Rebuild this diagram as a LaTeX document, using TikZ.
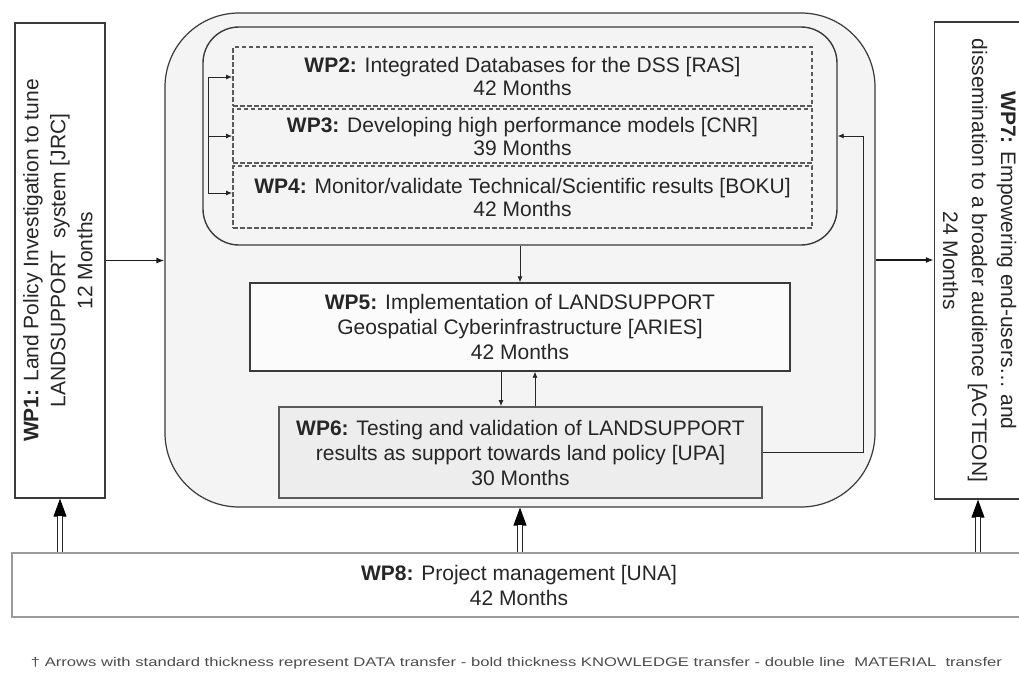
\documentclass[tikz,border=0pt]{standalone}
\usepackage{fontspec}
\setmainfont{Liberation Sans}
\usetikzlibrary{arrows.meta,calc}
\definecolor{boxfill}{HTML}{F4F4F4}
\definecolor{txtcol}{HTML}{262626}
\definecolor{linecol}{HTML}{3A3A3A}
\definecolor{dashcol}{HTML}{5A5A5A}
\definecolor{wp8col}{HTML}{9A9A9A}
\begin{document}
\begin{tikzpicture}[x=1pt,y=-1pt,
  txt/.style={font=\fontsize{21}{25}\selectfont, text=txtcol, align=center},
  plainbox/.style={txt, draw=linecol, rectangle, inner sep=0pt, line width=1.3pt},
  dashbox/.style={txt, font=\fontsize{21}{23}\selectfont, rectangle, inner sep=0pt,
     draw=dashcol, line width=1.9pt, dash pattern=on 4.5pt off 2.5pt, fill=boxfill},
  arr/.style={draw=black!85, line width=0.8pt, -{Latex[length=6pt,width=5pt]}},
  karr/.style={draw=black!90, line width=1.4pt, -{Latex[length=8pt,width=6pt]}},
  dbltip/.style={draw=black, line width=0.9pt, -{Triangle[length=18pt,width=13pt]}},
  dblshaft/.style={draw=black!85, double=white, double distance=3.5pt, line width=0.9pt, shorten >=17.5pt}
]
\useasboundingbox (0,0) rectangle (1019,675);
\fill[white] (0,0) rectangle (1019,675);

% big container
\node[rectangle, draw=linecol, line width=1.2pt, fill=boxfill, rounded corners=74pt,
      minimum width=710pt, minimum height=494pt] (big) at (520,260) {};
% inner rounded box
\node[rectangle, draw=linecol, line width=1.4pt, fill=boxfill, rounded corners=36pt,
      minimum width=634pt, minimum height=218pt] (inner) at (520,136) {};

% WP2-4
\node[dashbox, minimum width=579pt, minimum height=59pt] (wp2) at (522.5,76.5)
  {\textbf{WP2:} Integrated Databases for the DSS [RAS]\\42 Months};
\node[dashbox, minimum width=579pt, minimum height=54pt] (wp3) at (522.5,136)
  {\textbf{WP3:} Developing high performance models [CNR]\\39 Months};
\node[dashbox, minimum width=579pt, minimum height=62pt] (wp4) at (522.5,197)
  {\textbf{WP4:} Monitor/validate Technical/Scientific results [BOKU]\\42 Months};

% WP5, WP6
\node[plainbox, fill=white!60!boxfill, minimum width=540pt, minimum height=88pt] (wp5) at (520,327)
  {\textbf{WP5:} Implementation of LANDSUPPORT\\Geospatial Cyberinfrastructure [ARIES]\\42 Months};
\node[plainbox, draw=black!65, line width=1.8pt, fill=black!7, minimum width=483pt, minimum height=91pt] (wp6) at (520.5,452.5)
  {\textbf{WP6:} Testing and validation of LANDSUPPORT\\results as support towards land policy [UPA]\\30 Months};

% WP1, WP7
\node[plainbox, fill=white, minimum width=90pt, minimum height=475pt] (wp1) at (60,260.5)
  {\rotatebox{90}{\fontsize{21}{27}\selectfont\begin{tabular}{@{}c@{}}\textbf{WP1:} Land Policy Investigation to tune\\LANDSUPPORT\ \ system [JRC]\\12 Months\end{tabular}}};
\node[plainbox, fill=white, minimum width=84pt, minimum height=477pt] (wp7) at (978,260.5)
  {\rotatebox{-90}{\fontsize{21}{29}\selectfont\begin{tabular}{@{}c@{}}\textbf{WP7:} Empowering end-users… and\\dissemination to a broader audience [ACTEON]\\24 Months\end{tabular}}};

% WP8
\node[plainbox, draw=wp8col, line width=2.4pt, fill=white, minimum width=1014pt, minimum height=64pt] (wp8) at (519,585)
  {\textbf{WP8:} Project management [UNA]\\42 Months};

% footnote
\node[text=black!70, inner sep=0pt] (note) at (516.5,663)
  {\scalebox{1.33}[1]{\fontsize{12.5}{14}\selectfont † Arrows with standard thickness represent DATA transfer - bold thickness KNOWLEDGE transfer - double line\ \ MATERIAL\ \ transfer}};

% bracket arrows into WP2-4
\coordinate (b2) at (208,77);
\coordinate (b4) at (208,193);
\draw[draw=black!85, line width=0.8pt] (b2) -- (b4);
\draw[arr] (b2) -- (b2 -| wp2.west);
\draw[arr] (b2 |- wp3.west) -- (wp3.west);
\draw[arr] (b4) -- (b4 -| wp4.west);

% inner -> WP5
\draw[arr] (inner.south) -- (wp5.north);
% WP5 <-> WP6
\draw[arr] ([xshift=-19pt]wp5.south) coordinate (d1) -- (d1 |- wp6.north);
\draw[arr] ([xshift=14.5pt]wp6.north) coordinate (u1) -- (u1 |- wp5.south);
% WP6 -> inner (feedback)
\coordinate (rc) at (863,453);
\draw[arr] (wp6.east) -- (wp6.east -| rc) |- (inner.east);

% knowledge arrows
\draw[karr] (wp1.east) -- (wp1.east -| big.west);
\draw[karr] (big.east) -- (big.east -| wp7.west);

% material (double) arrows from WP8
\draw[dbltip] (wp8.north -| wp1.south) -- (wp1.south);
\draw[dblshaft] (wp8.north -| wp1.south) -- (wp1.south);
\draw[dbltip] (wp8.north -| big.south) -- (big.south);
\draw[dblshaft] (wp8.north -| big.south) -- (big.south);
\draw[dbltip] (wp8.north -| wp7.south) -- (wp7.south);
\draw[dblshaft] (wp8.north -| wp7.south) -- (wp7.south);
\end{tikzpicture}
\end{document}
